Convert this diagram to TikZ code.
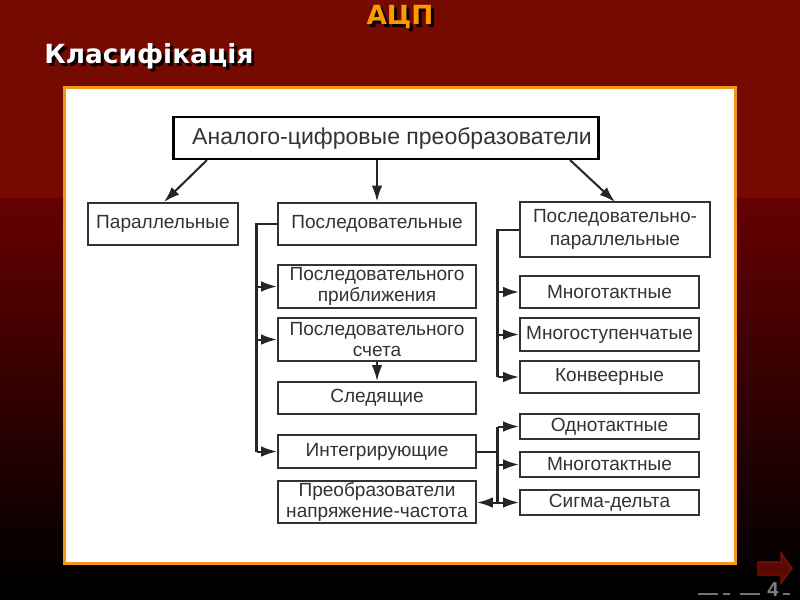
\documentclass[tikz,border=0pt]{standalone}
\usepackage{fontspec}
\setmainfont{Liberation Sans}
\newfontfamily\titlefont{DejaVu Sans}
\usetikzlibrary{arrows.meta}
\definecolor{slideframe}{HTML}{F7941D}
\definecolor{slidetitle}{HTML}{FF9900}
\definecolor{slidered}{HTML}{740A00}
\definecolor{slidedark}{HTML}{660000}
\definecolor{nextfill}{HTML}{5A0A00}
\definecolor{nextedge}{HTML}{7A1408}
\tikzset{
    blockbox/.style={draw=black!80, line width=1.15pt, fill=white, align=center, font=\fontsize{10.85}{12}\selectfont, inner sep=0pt, text=black!80},
    linkarrow/.style={draw=black!85, line width=1.15pt, -{Latex[length=9pt,width=6pt]}},
    linkline/.style={draw=black!85, line width=1.15pt},
    titletext/.style={font=\titlefont\bfseries\fontsize{15}{16}\selectfont, inner sep=0pt}
}
\newcommand{\blockat}[6]{\node[blockbox, minimum width=#3*0.02cm, minimum height=#4*0.02cm] (#5) at (#1,#2) {#6};}
\newcommand{\shadowed}[2]{\makebox[0pt][l]{\kern1.7pt\raisebox{-1.7pt}{\textcolor{black}{#2}}}\textcolor{#1}{#2}}
\begin{document}
\begin{tikzpicture}[x=0.02cm, y=-0.02cm]
    \useasboundingbox (0,0) rectangle (800,600);
    % Background
    \fill[black] (0,0) rectangle (800,600);
    \fill[slidered] (0,0) rectangle (800,198);
    \shade[top color=slidedark, bottom color=black] (0,198) rectangle (800,585);
    % Titles
    \node[titletext] (title) at (400,18) {\shadowed{slidetitle}{АЦП}};
    \node[titletext, anchor=west] (subtitle) at (44,58) {\shadowed{white}{Класифікація}};
    % Panel
    \fill[white, draw=slideframe, line width=1.6pt] (64.5,87.5) rectangle (735.5,563.5);
    % Top block
    \node[blockbox, draw=black, line width=1.5pt, minimum width=8.5cm, minimum height=0.84cm, font=\fontsize{13.1}{14}\selectfont] (adc) at (386,138) {\hspace*{0.24cm}Аналого-цифровые преобразователи};
    % Left and middle column
    \blockat{163}{223.5}{150}{42}{parallel}{Параллельные}
    \blockat{377}{223.5}{198}{42}{serial}{Последовательные}
    \blockat{377}{286.5}{198}{43}{approx}{Последовательного\\приближения}
    \blockat{377}{339.5}{198}{43}{count}{Последовательного\\счета}
    \blockat{377}{398}{198}{32}{track}{Следящие}
    \blockat{377}{451.5}{198}{33}{integr}{Интегрирующие}
    \blockat{377}{502}{198}{42}{vfc}{Преобразователи\\напряжение-частота}
    % Right column
    \node[blockbox, minimum width=190*0.02cm, minimum height=55*0.02cm, font=\fontsize{10.85}{13}\selectfont] (serpar) at (615,229.5) {Последовательно-\\параллельные};
    \blockat{609.5}{292}{179}{32}{multi}{Многотактные}
    \blockat{609.5}{334.5}{179}{33}{stage}{Многоступенчатые}
    \blockat{609.5}{377}{179}{32}{pipe}{Конвеерные}
    \blockat{609.5}{426.5}{179}{25}{single}{Однотактные}
    \blockat{609.5}{464.5}{179}{25}{multib}{Многотактные}
    \blockat{609.5}{502.5}{179}{25}{sigma}{Сигма-дельта}
    % Arrows from top block
    \coordinate (adcl) at (207,160);
    \coordinate (adcr) at (570,160);
    \coordinate (parin) at (164,202);
    \coordinate (serparin) at (615,202);
    \draw[linkarrow] (adcl) -- (parin);
    \draw[linkarrow] (adc.south -| serial) -- (serial.north);
    \draw[linkarrow] (adcr) -- (serparin);
    % Serial branch
    \coordinate (busa) at (256.5,223.5);
    \draw[linkline] (serial.west) -- (busa) -- (busa |- integr);
    \draw[linkarrow] (busa |- approx) -- (approx.west);
    \draw[linkarrow] (busa |- count) -- (count.west);
    \draw[linkarrow] (busa |- integr) -- (integr.west);
    \draw[linkarrow] (count.south) -- (track.north);
    % Serial-parallel branch
    \coordinate (busb) at (497.5,229.5);
    \draw[linkline] (serpar.west) -- (busb) -- (busb |- pipe);
    \draw[linkarrow] (busb |- multi) -- (multi.west);
    \draw[linkarrow] (busb |- stage) -- (stage.west);
    \draw[linkarrow] (busb |- pipe) -- (pipe.west);
    % Integrating branch
    \coordinate (busc) at (497.5,451.5);
    \coordinate (busd) at (497.5,426.5);
    \draw[linkline] (integr.east) -- (busc);
    \draw[linkline] (busd) -- (busd |- sigma);
    \draw[linkarrow] (busd) -- (single.west);
    \draw[linkarrow] (busd |- multib) -- (multib.west);
    \draw[linkarrow] (busd |- sigma) -- (sigma.west);
    \draw[linkarrow] (busd |- sigma) -- (vfc.east |- sigma);
    % Footer
    \draw[fill=nextfill, draw=nextedge, line width=0.8pt] (758,562) -- (781,562) -- (781,553) -- (792,568.5) -- (781,583) -- (781,575) -- (758,575) -- cycle;
    \draw[black!55, line width=1pt] (698,594) -- (718,594) (723,594) -- (730,594) (740,594) -- (760,594) (783,594) -- (790,594);
    \node[font=\bfseries\fontsize{11.5}{12}\selectfont, text=black!50!white, inner sep=0pt] (pagenum) at (773,590) {4};
\end{tikzpicture}
\end{document}
